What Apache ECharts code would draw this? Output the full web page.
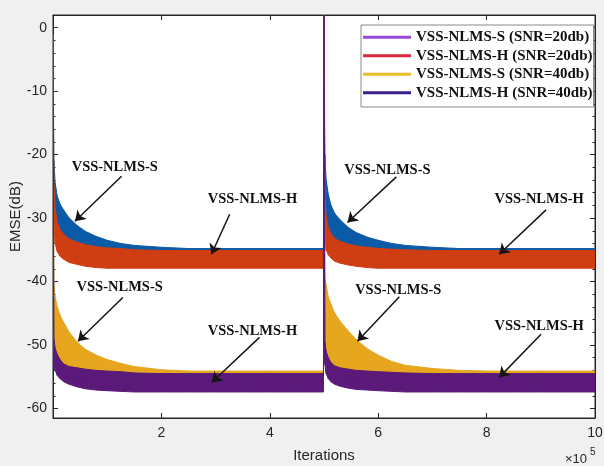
<!DOCTYPE html>
<html>
<head>
<meta charset="utf-8">
<script src="https://cdn.jsdelivr.net/npm/echarts@6/dist/echarts.min.js"></script>
<style>
  html, body { margin: 0; padding: 0; background: #f0f0f0; }
  #chart { width: 604px; height: 466px; }
</style>
</head>
<body>
<div id="chart"></div>
<script>
// iterations, two runs of 5e5 each (restart at 5e5)
const iterations = [0, 1500, 4000, 8000, 13000, 20000, 30000, 45000, 60000, 80000, 100000, 125000, 150000, 200000, 250000, 300000, 350000, 400000, 450000, 499000,
  500000, 501500, 504000, 508000, 513000, 520000, 530000, 545000, 560000, 580000, 600000, 625000, 650000, 700000, 750000, 800000, 850000, 900000, 950000, 1000000];

// upper / lower edge of each noisy band (dB)
const s20Hi = [-1, -21, -24.5, -26.6, -27.8, -28.8, -30, -31.2, -32.1, -32.9, -33.5, -34, -34.3, -34.6, -34.8, -34.8, -34.8, -34.8, -34.8, -34.8,
  4, -20, -24, -26.3, -28, -29.3, -30.3, -31.5, -32.3, -33, -33.5, -34, -34.3, -34.6, -34.8, -34.8, -34.8, -34.8, -34.8, -34.8];
const s20Lo = [-1, -27, -30, -32, -33, -34, -34.6, -35, -35.4, -35.7, -35.9, -36, -36.2, -36.3, -36.4, -36.4, -36.4, -36.4, -36.4, -36.4,
  4, -28, -31, -32.8, -33.8, -34.5, -35, -35.4, -35.7, -35.9, -36, -36.1, -36.2, -36.3, -36.4, -36.4, -36.4, -36.4, -36.4, -36.4];
const h20Hi = [-1, -25, -28.5, -30.7, -31.8, -32.6, -33.3, -33.8, -34.2, -34.5, -34.7, -34.8, -35, -35.1, -35.1, -35.1, -35.1, -35.1, -35.1, -35.1,
  4, -27, -29.7, -31.5, -32.5, -33.2, -33.7, -34.1, -34.4, -34.6, -34.8, -34.9, -35, -35.1, -35.1, -35.1, -35.1, -35.1, -35.1, -35.1];
const h20Lo = [-1, -30, -34, -35.3, -36, -36.5, -37, -37.3, -37.6, -37.8, -37.9, -37.9, -37.9, -37.9, -37.9, -37.9, -37.9, -37.9, -37.9, -37.9,
  4, -33, -35, -35.8, -36.3, -36.8, -37.1, -37.4, -37.6, -37.8, -37.9, -37.9, -37.9, -37.9, -37.9, -37.9, -37.9, -37.9, -37.9, -37.9];
const s40Hi = [-1, -40.5, -42.5, -44, -45.3, -46.5, -48, -49.6, -50.7, -51.6, -52.3, -52.9, -53.4, -53.9, -54.1, -54.1, -54.1, -54.1, -54.1, -54.1,
  4, -39.5, -40.5, -42.5, -43.6, -45, -46.3, -47.8, -49.2, -50.6, -51.6, -52.6, -53.2, -53.7, -54, -54.1, -54.1, -54.1, -54.1, -54.1];
const s40Lo = [-1, -51, -52.5, -53.3, -54, -54.5, -55, -55.2, -55.4, -55.5, -55.6, -55.6, -55.6, -55.6, -55.6, -55.6, -55.6, -55.6, -55.6, -55.6,
  4, -51, -52.5, -53.8, -54.5, -55, -55.2, -55.4, -55.5, -55.6, -55.6, -55.6, -55.6, -55.6, -55.6, -55.6, -55.6, -55.6, -55.6, -55.6];
const h40Hi = [-1, -49, -50.5, -51.5, -52.3, -53, -53.4, -53.6, -53.8, -54, -54.1, -54.2, -54.4, -54.5, -54.5, -54.5, -54.5, -54.5, -54.5, -54.5,
  4, -49.5, -51, -52, -52.8, -53.3, -53.6, -53.8, -54, -54.1, -54.2, -54.3, -54.4, -54.5, -54.5, -54.5, -54.5, -54.5, -54.5, -54.5];
const h40Lo = [-1, -53, -54, -54.8, -55.3, -55.8, -56.2, -56.6, -56.9, -57.1, -57.2, -57.3, -57.4, -57.4, -57.4, -57.4, -57.4, -57.4, -57.4, -57.4,
  4, -53, -54.5, -55.3, -55.8, -56.2, -56.5, -56.8, -57, -57.1, -57.2, -57.3, -57.4, -57.4, -57.4, -57.4, -57.4, -57.4, -57.4, -57.4];

const seriesNames = ['VSS-NLMS-S (SNR=20db)', 'VSS-NLMS-H (SNR=20db)', 'VSS-NLMS-S (SNR=40db)', 'VSS-NLMS-H (SNR=40db)'];
const bandColors = ['#0b5aa8', '#cf3e12', '#e6a61e', '#5b1a7a'];
const legendColors = ['#9a48dc', '#d8283c', '#eac02a', '#3b1f8c'];

const xTicks = [200000, 400000, 600000, 800000, 1000000];
const yTicks = [-60, -50, -40, -30, -20, -10, 0];
const yMinor = [-60, -58, -56, -54, -52, -50, -48, -46, -44, -42, -40, -38, -36, -34, -32, -30, -28, -26, -24, -22, -20, -18, -16, -14, -12, -10, -8, -6, -4, -2, 0];

// text labels and arrows, in data coordinates [iteration, dB]
const notes = [
  { text: 'VSS-NLMS-S', at: [114000, -22.0], from: [126500, -23.4], to: [40500, -30.5] },
  { text: 'VSS-NLMS-H', at: [368000, -27.1], from: [326000, -29.4], to: [292300, -35.7] },
  { text: 'VSS-NLMS-S', at: [123000, -40.9], from: [128900, -42.5], to: [46000, -49.4] },
  { text: 'VSS-NLMS-H', at: [368000, -47.9], from: [381000, -48.8], to: [292800, -55.9] },
  { text: 'VSS-NLMS-S', at: [617000, -22.4], from: [633500, -23.5], to: [543300, -30.7] },
  { text: 'VSS-NLMS-H', at: [897000, -27.1], from: [909700, -28.7], to: [823200, -35.7] },
  { text: 'VSS-NLMS-S', at: [637000, -41.3], from: [639000, -42.4], to: [561700, -49.4] },
  { text: 'VSS-NLMS-H', at: [897000, -47.1], from: [900500, -48.3], to: [823200, -55.1] }
];

const bands = [[s20Hi, s20Lo], [h20Hi, h20Lo], [s40Hi, s40Lo], [h40Hi, h40Lo]];

// each band: filled quads between upper and lower edge, placed with api.coord
var series = bands.map(function (b, k) {
  var hi = b[0], lo = b[1], col = bandColors[k];
  return {
    name: seriesNames[k],
    type: 'custom',
    clip: true,
    itemStyle: { color: col },
    encode: { x: 0, y: [1, 2] },
    data: iterations.map(function (x, i) { return [x, hi[i], lo[i]]; }),
    renderItem: function (params, api) {
      var i = params.dataIndex;
      if (i >= iterations.length - 1) return null;
      var pts = [
        api.coord([iterations[i], hi[i]]),
        api.coord([iterations[i + 1], hi[i + 1]]),
        api.coord([iterations[i + 1], lo[i + 1]]),
        api.coord([iterations[i], lo[i]])
      ];
      return { type: 'polygon', shape: { points: pts }, style: { fill: col, stroke: col, lineWidth: 1 } };
    }
  };
});

series.push({
  name: 'notes',
  type: 'line',
  data: [],
  z: 10,
  markLine: {
    silent: true,
    symbol: ['none', 'arrow'],
    symbolSize: 10,
    lineStyle: { color: '#151515', width: 1.5, type: 'solid' },
    label: { show: false },
    data: notes.map(function (n) { return [{ coord: n.from }, { coord: n.to }]; })
  },
  markPoint: {
    silent: true,
    symbol: 'circle',
    symbolSize: 0,
    label: {
      show: true,
      position: 'inside',
      formatter: '{b}',
      color: '#111',
      fontFamily: 'Liberation Serif',
      fontWeight: 'bold',
      fontSize: 14.5
    },
    data: notes.map(function (n) { return { name: n.text, coord: n.at }; })
  }
});

var axisFont = { color: '#262626', fontFamily: 'Liberation Sans', fontSize: 14 };
var frameLine = { show: true, onZero: false, lineStyle: { color: '#262626' } };

var chart = echarts.init(document.getElementById('chart'));
chart.setOption({
  animation: false,
  backgroundColor: '#f0f0f0',
  grid: {
    left: 53, right: 9, top: 15, bottom: 48,
    outerBoundsMode: 'none',
    show: true, backgroundColor: '#ffffff', borderColor: '#262626', borderWidth: 1
  },
  legend: {
    left: 361, top: 25,
    orient: 'vertical',
    backgroundColor: '#ffffff',
    borderColor: '#8a8a8a', borderWidth: 1,
    padding: [3, 1, 5, 2],
    itemGap: 0,
    itemWidth: 48, itemHeight: 3,
    textStyle: { color: '#111', fontFamily: 'Liberation Serif', fontWeight: 'bold', fontSize: 15, lineHeight: 18.5 },
    data: seriesNames.map(function (n, i) {
      return { name: n, icon: 'rect', itemStyle: { color: legendColors[i], borderWidth: 0 } };
    })
  },
  xAxis: [{
    type: 'value', min: 0, max: 1000000, position: 'bottom',
    name: 'Iterations', nameLocation: 'middle', nameGap: 30,
    nameTextStyle: { color: '#262626', fontFamily: 'Liberation Sans', fontSize: 15 },
    axisLine: frameLine,
    axisTick: { show: true, inside: true, length: 5, lineStyle: { color: '#262626' }, customValues: xTicks },
    axisLabel: Object.assign({ margin: 8, customValues: xTicks, formatter: function (v) { return String(v / 100000); } }, axisFont),
    splitLine: { show: false }
  }, {
    type: 'value', min: 0, max: 1000000, position: 'top',
    axisLine: frameLine,
    axisTick: { show: true, inside: true, length: 5, lineStyle: { color: '#262626' }, customValues: xTicks },
    axisLabel: { show: false },
    splitLine: { show: false }
  }],
  yAxis: [{
    type: 'value', min: -61.5, max: 2, position: 'left',
    name: 'EMSE(dB)', nameLocation: 'middle', nameGap: 30, nameMoveOverlap: false,
    nameTextStyle: { color: '#262626', fontFamily: 'Liberation Sans', fontSize: 15 },
    axisLine: frameLine,
    axisTick: { show: true, inside: true, length: 5, lineStyle: { color: '#262626' }, customValues: yTicks },
    axisLabel: Object.assign({ margin: 6, customValues: yTicks }, axisFont),
    splitLine: { show: false }
  }, {
    type: 'value', min: -61.5, max: 2, position: 'left',
    axisLine: { show: false, onZero: false },
    axisTick: { show: true, inside: true, length: 2.5, lineStyle: { color: '#262626' }, customValues: yMinor },
    axisLabel: { show: false },
    splitLine: { show: false }
  }, {
    type: 'value', min: -61.5, max: 2, position: 'right',
    axisLine: frameLine,
    axisTick: { show: true, inside: true, length: 5, lineStyle: { color: '#262626' }, customValues: yTicks },
    axisLabel: { show: false },
    splitLine: { show: false }
  }, {
    type: 'value', min: -61.5, max: 2, position: 'right',
    axisLine: { show: false, onZero: false },
    axisTick: { show: true, inside: true, length: 2.5, lineStyle: { color: '#262626' }, customValues: yMinor },
    axisLabel: { show: false },
    splitLine: { show: false }
  }],
  graphic: [
    { type: 'text', left: 565, top: 453, style: { text: '\u00d710', fill: '#262626', font: '13px "Liberation Sans"' } },
    { type: 'text', left: 590, top: 447, style: { text: '5', fill: '#262626', font: '10px "Liberation Sans"' } }
  ],
  series: series
});
</script>
</body>
</html>
